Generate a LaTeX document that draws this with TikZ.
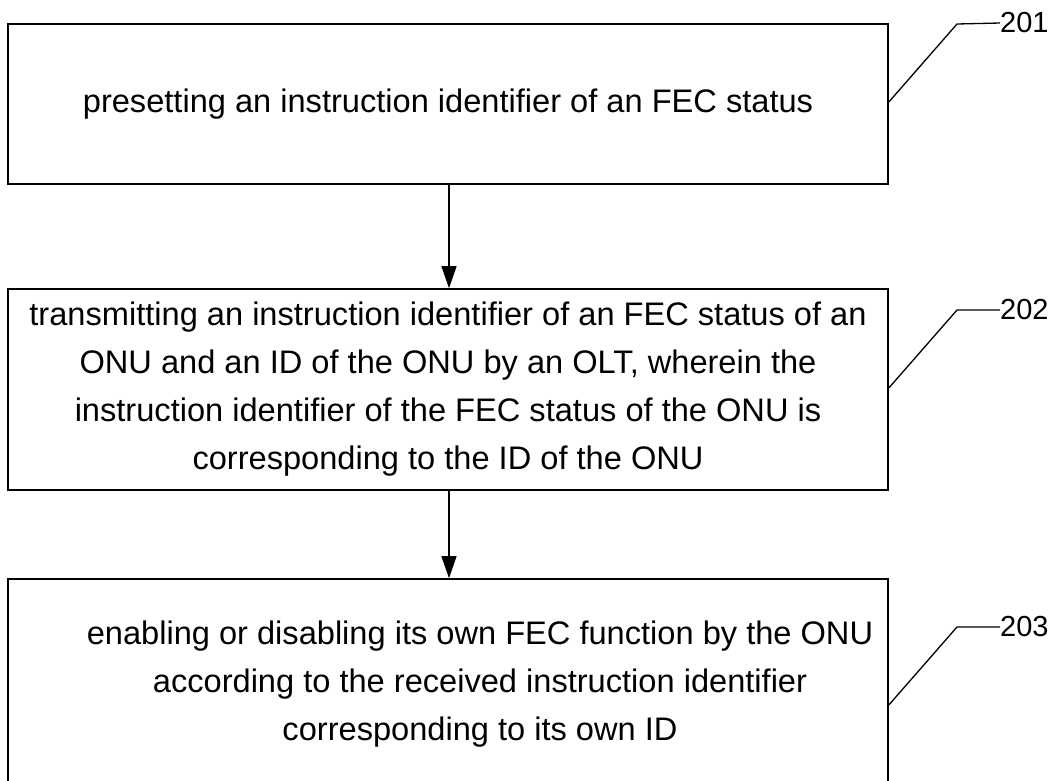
\documentclass[tikz,border=0pt]{standalone}
\usepackage{fontspec}
\setmainfont{Liberation Sans}
\usetikzlibrary{arrows.meta}
\begin{document}
\begin{tikzpicture}[x=1pt,y=-1pt,
  stepbox/.style={draw=black,line width=1.6pt,minimum width=880pt,inner sep=0pt,
    font=\fontsize{32.6}{48}\selectfont,align=center},
  flow/.style={line width=1.3pt,-{Triangle[length=22pt,width=15pt]}},
  leader/.style={line width=1.3pt},
  reflabel/.style={font=\fontsize{29}{30}\selectfont,anchor=west,inner sep=0pt}]
\useasboundingbox (0,0) rectangle (1059,780);
% process steps
\node[stepbox,minimum height=160pt] (s1) at (448,104) {presetting an instruction identifier of an FEC status};
\node[stepbox,minimum height=201pt] (s2) at (448,389.5)
  {transmitting an instruction identifier of an FEC status of an\\
   ONU and an ID of the ONU by an OLT, wherein the\\
   instruction identifier of the FEC status of the ONU is\\
   corresponding to the ID of the ONU};
\node[stepbox,minimum height=205pt] (s3) at (448,681.5) {};
\node[font=\fontsize{32.6}{48}\selectfont,align=center] (t3) at (480,684)
  {enabling or disabling its own FEC function by the ONU\\
   according to the received instruction identifier\\
   corresponding to its own ID};
% flow arrows
\draw[flow] (s1.south -| 449,0) -- (s2.north -| 449,0);
\draw[flow] (s2.south -| 449,0) -- (s3.north -| 449,0);
% reference numerals
\node[reflabel] (r1) at (1000,23) {201};
\node[reflabel] (r2) at (1000,310) {202};
\node[reflabel] (r3) at (1000,627) {203};
\coordinate (k1) at (957,24);
\coordinate (k2) at (957,310);
\coordinate (k3) at (957,627);
\draw[leader] (s1.east |- 0,102) -- (k1) -- (r1.west);
\draw[leader] (s2.east |- 0,388) -- (k2) -- (r2.west);
\draw[leader] (s3.east |- 0,705) -- (k3) -- (r3.west);
\end{tikzpicture}
\end{document}
